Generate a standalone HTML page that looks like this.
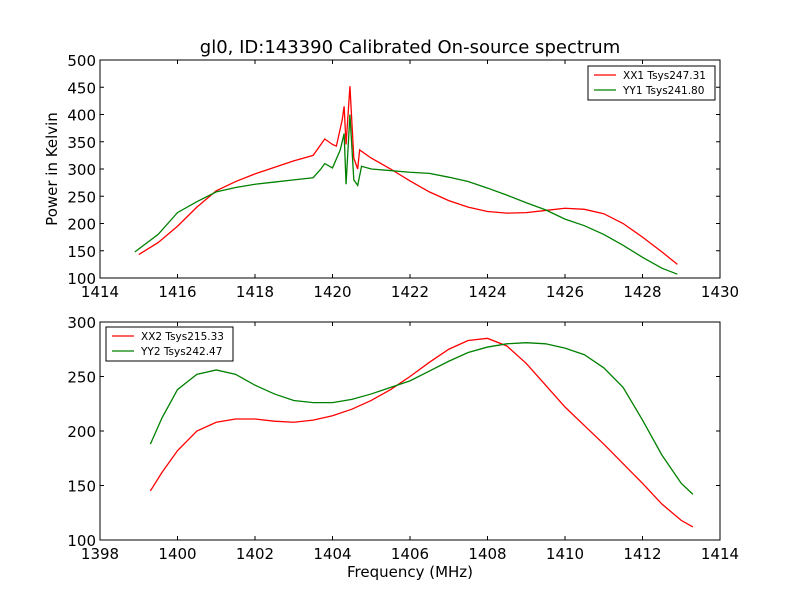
<!DOCTYPE html>
<html><head><meta charset="utf-8"><style>body{margin:0;background:#fff}svg{font-family:"DejaVu Sans","Liberation Sans",sans-serif}</style></head>
<body>
<svg id="c" width="800" height="600" viewBox="0 0 800 600">
<rect width="800" height="600" fill="#fff"/>
<text x="410" y="53" font-size="18" text-anchor="middle">gl0, ID:143390 Calibrated On-source spectrum</text>
<text x="57" y="169" font-size="15" text-anchor="middle" transform="rotate(-90 57 169)">Power in Kelvin</text>
<text x="410" y="577" font-size="15" text-anchor="middle">Frequency (MHz)</text>
<g id="top"></g>
<g id="bot"></g>
</svg>
<script>
const topXX1x=[1415,1415.5,1416,1416.5,1417,1417.5,1418,1418.5,1419,1419.5,1419.7,1419.8,1420,1420.1,1420.25,1420.3,1420.35,1420.45,1420.55,1420.65,1420.7,1421,1421.5,1422,1422.5,1423,1423.5,1424,1424.5,1425,1425.5,1426,1426.5,1427,1427.5,1428,1428.5,1428.9];
const topXX1y=[143,165,195,230,260,277,291,303,315,325,345,355,345,342,390,415,345,452,320,300,335,320,300,278,258,242,230,222,219,220,224,228,226,218,200,175,148,125];
const topYY1x=[1414.9,1415.5,1416,1416.5,1417,1417.5,1418,1418.5,1419,1419.5,1419.7,1419.8,1420,1420.2,1420.3,1420.35,1420.45,1420.55,1420.65,1420.75,1421,1422,1422.5,1423,1423.5,1424,1424.5,1425,1425.5,1426,1426.5,1427,1427.5,1428,1428.5,1428.9];
const topYY1y=[148,180,220,240,258,266,272,276,280,284,300,310,302,335,365,272,400,280,270,305,300,294,292,285,277,265,252,238,225,208,196,180,160,138,118,107];
const botXX2x=[1399.3,1399.6,1400,1400.5,1401,1401.5,1402,1402.5,1403,1403.5,1404,1404.5,1405,1405.5,1406,1406.5,1407,1407.5,1408,1408.5,1409,1409.5,1410,1410.5,1411,1411.5,1412,1412.5,1413,1413.3];
const botXX2y=[145,162,182,200,208,211,211,209,208,210,214,220,228,238,250,263,275,283,285,278,262,242,222,205,188,170,152,133,118,112];
const botYY2x=botXX2x;
const botYY2y=[188,212,238,252,256,252,242,234,228,226,226,229,234,240,246,255,264,272,277,280,281,280,276,270,258,240,210,178,152,142];
const topXTicks=[1414,1416,1418,1420,1422,1424,1426,1428,1430];
const topYTicks=[100,150,200,250,300,350,400,450,500];
const botXTicks=[1398,1400,1402,1404,1406,1408,1410,1412,1414];
const botYTicks=[100,150,200,250,300];
const NS="http://www.w3.org/2000/svg";
function mk(p,t,a){const e=document.createElementNS(NS,t);for(const k in a)e.setAttribute(k,a[k]);p.appendChild(e);return e;}
function panel(g,L,T,W,H,x0,x1,y0,y1,xt,yt,series,legend){
 const sx=v=>L+(v-x0)/(x1-x0)*W, sy=v=>T+H-(v-y0)/(y1-y0)*H;
 series.forEach(s=>{
  const p=mk(g,'polyline',{points:s.x.map((v,i)=>sx(v)+','+sy(s.y[i])).join(' '),fill:'none',stroke:s.c,'stroke-width':1.3});
  
  
 });
 const fr=mk(g,'rect',{x:L,y:T,width:W,height:H,fill:'none',stroke:'#000'});
 
 
 xt.forEach(v=>{const x=sx(v);mk(g,'line',{x1:x,x2:x,y1:T+H,y2:T+H-4,stroke:'#000'});mk(g,'line',{x1:x,x2:x,y1:T,y2:T+4,stroke:'#000'});
  const t=mk(g,'text',{x:x,y:T+H+19,'font-size':15,'text-anchor':'middle'});t.textContent=v;
  
  });
 yt.forEach(v=>{const y=sy(v);mk(g,'line',{x1:L,x2:L+4,y1:y,y2:y,stroke:'#000'});mk(g,'line',{x1:L+W,x2:L+W-4,y1:y,y2:y,stroke:'#000'});
  const t=mk(g,'text',{x:L-4,y:y+6,'font-size':15,'text-anchor':'end'});t.textContent=v;
  
  });
 const lg=mk(g,'g',{});
 
 
 mk(lg,'rect',{x:legend.x,y:legend.y,width:127,height:34,fill:'#fff',stroke:'#000'});
 series.forEach((s,i)=>{const y=legend.y+9+i*15;mk(lg,'line',{x1:legend.x+6,x2:legend.x+28,y1:y,y2:y,stroke:s.c,'stroke-width':1.3});
  const t=mk(lg,'text',{x:legend.x+35,y:y+4,'font-size':10.5});t.textContent=s.l;
  
  });
}
panel(document.getElementById('top'),100,60,620,218,1414,1430,100,500,topXTicks,topYTicks,
 [{x:topXX1x,y:topXX1y,c:'#f00',n:'xx1-line',l:'XX1 Tsys247.31'},{x:topYY1x,y:topYY1y,c:'#008000',n:'yy1-line',l:'YY1 Tsys241.80'}],{x:588,y:66});
panel(document.getElementById('bot'),100,322,620,218,1398,1414,100,300,botXTicks,botYTicks,
 [{x:botXX2x,y:botXX2y,c:'#f00',n:'xx2-line',l:'XX2 Tsys215.33'},{x:botYY2x,y:botYY2y,c:'#008000',n:'yy2-line',l:'YY2 Tsys242.47'}],{x:106,y:327});
</script>
</body></html>
